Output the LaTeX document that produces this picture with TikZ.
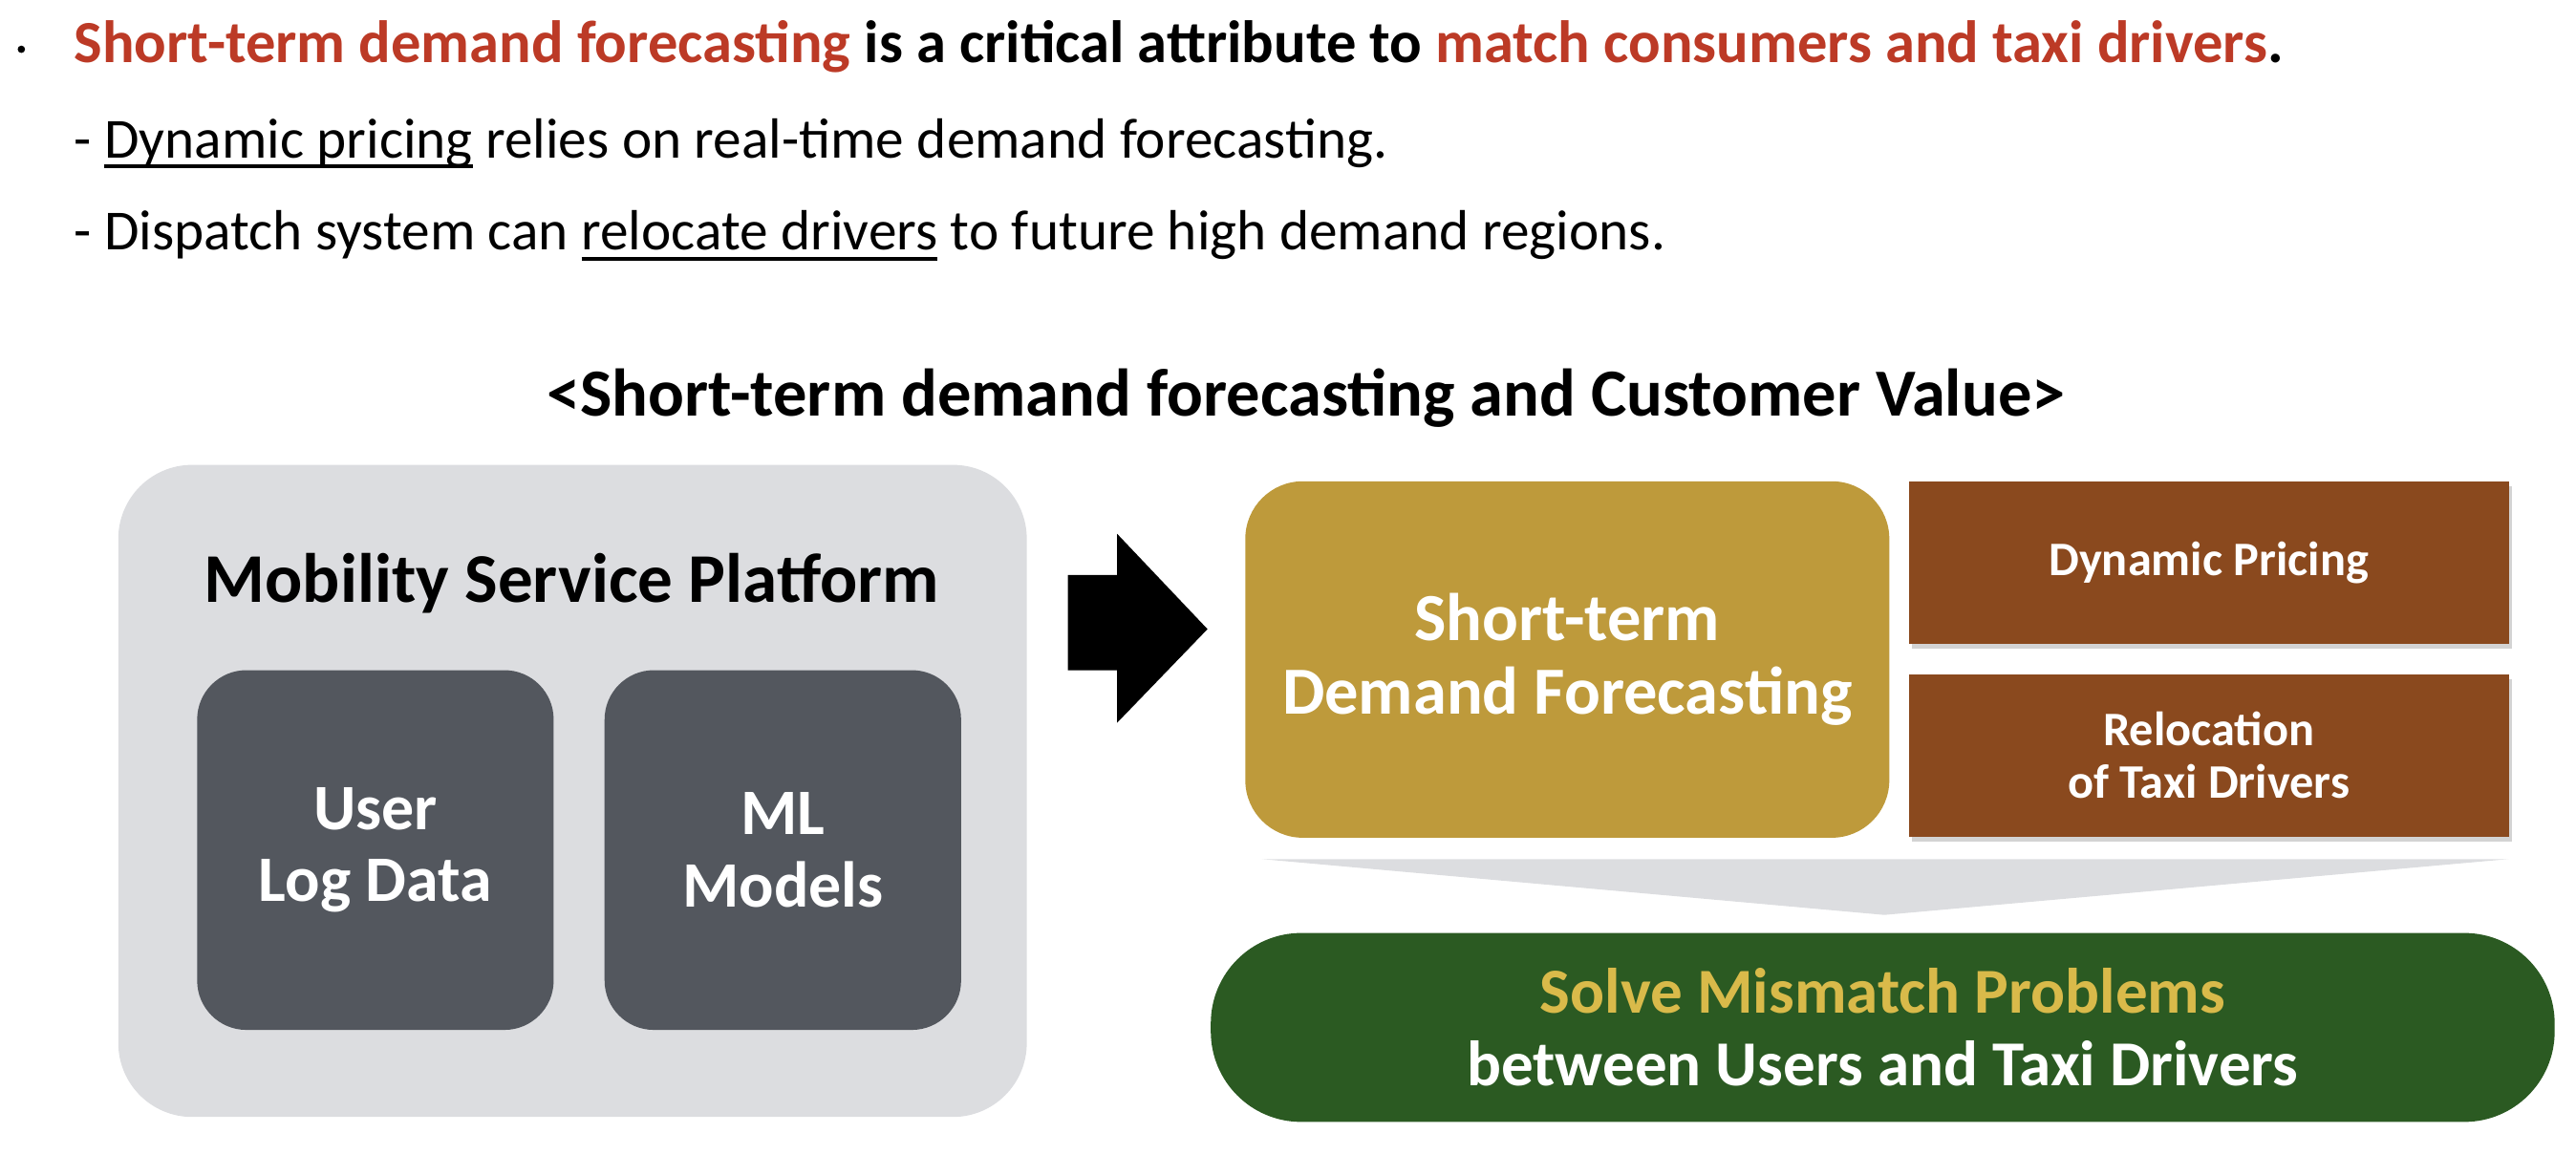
\documentclass[tikz,border=0pt]{standalone}
\usepackage{fontspec}
\setmainfont{Carlito}
\usetikzlibrary{shadows}
\newcommand\thickul[1]{\leavevmode\setbox0\hbox{#1}\rlap{\rule[-6.5pt]{\wd0}{2.2pt}}\box0\relax}
\definecolor{hired}{HTML}{BC3A26}
\definecolor{platgray}{HTML}{DCDDE0}
\definecolor{darkbox}{HTML}{53575E}
\definecolor{goldbox}{HTML}{BE9A3B}
\definecolor{brownbox}{HTML}{8A491E}
\definecolor{greenbox}{HTML}{2B5A22}
\definecolor{goldtext}{HTML}{D9BA4A}
\tikzset{
  bodytext/.style={anchor=base west, inner sep=0pt, font=\fontsize{34.5}{40}\selectfont},
  platform/.style={fill=platgray, rounded corners=45pt, minimum width=553pt, minimum height=397pt, inner sep=0pt},
  innerbox/.style={fill=darkbox, rounded corners=30pt, minimum width=217pt, minimum height=219pt, text=white, align=center, font=\fontsize{39.5}{44}\selectfont\bfseries},
  forecast/.style={fill=goldbox, rounded corners=35pt, minimum width=392pt, minimum height=217pt, text=white, align=center, font=\fontsize{41}{45}\selectfont\bfseries},
  usebox/.style={fill=brownbox, minimum width=365pt, minimum height=99pt, text=white, align=center, font=\fontsize{29.3}{32}\selectfont\bfseries, drop shadow={shadow xshift=2pt, shadow yshift=-3pt, opacity=0.35}},
  resultbox/.style={fill=greenbox, rounded corners=55pt, minimum width=818pt, minimum height=115pt, align=center, font=\fontsize{39}{44}\selectfont\bfseries, text=white}
}
\begin{document}
\begin{tikzpicture}[x=1pt,y=-1pt]
\useasboundingbox (0,0) rectangle (1568,715.4);
% bullet text
\node[circle, fill=black, inner sep=0pt, minimum size=4.5pt] (dot) at (13,30) {};
\node[bodytext, font=\fontsize{36.4}{40}\selectfont\bfseries] (l1) at (45,38) {\textcolor{hired}{Short-term demand forecasting} is a critical attribute to \textcolor{hired}{match consumers and taxi drivers}.};
\node[bodytext] (l2) at (45,96) {- \thickul{Dynamic pricing} relies on real-time demand forecasting.};
\node[bodytext] (l3) at (45,152) {- Dispatch system can \thickul{relocate drivers} to future high demand regions.};
% title
\node[anchor=base, inner sep=0pt, font=\fontsize{41}{46}\selectfont\bfseries] (title) at (795,253) {<Short-term demand forecasting and Customer Value>};
% left platform
\node[platform] (plat) at (348.5,481.5) {};
\node[inner sep=0pt, font=\fontsize{42.5}{46}\selectfont\bfseries] (plattitle) at (348,355) {Mobility Service Platform};
\node[innerbox] (logdata) at (228.5,517.5) {User\\Log Data};
\node[innerbox] (mlmodels) at (476.5,517.5) {ML\\Models};
% big arrow
\fill (650,350) -- (680,350) -- (680,325) -- (735,383) -- (680,440) -- (680,408) -- (650,408) -- cycle;
% forecasting
\node[forecast] (fc) at (954,401.5) {Short-term\\Demand Forecasting};
\node[usebox] (dp) at (1344.5,342.5) {Dynamic Pricing};
\node[usebox] (rel) at (1344.5,460) {Relocation\\of Taxi Drivers};
% funnel
\fill[platgray] (768,523) -- (1527,523) -- (1147,557) -- cycle;
% result
\node[resultbox] (res) at (1146,625.5) {\textcolor{goldtext}{Solve Mismatch Problems}\\between Users and Taxi Drivers};
\end{tikzpicture}
\end{document}
